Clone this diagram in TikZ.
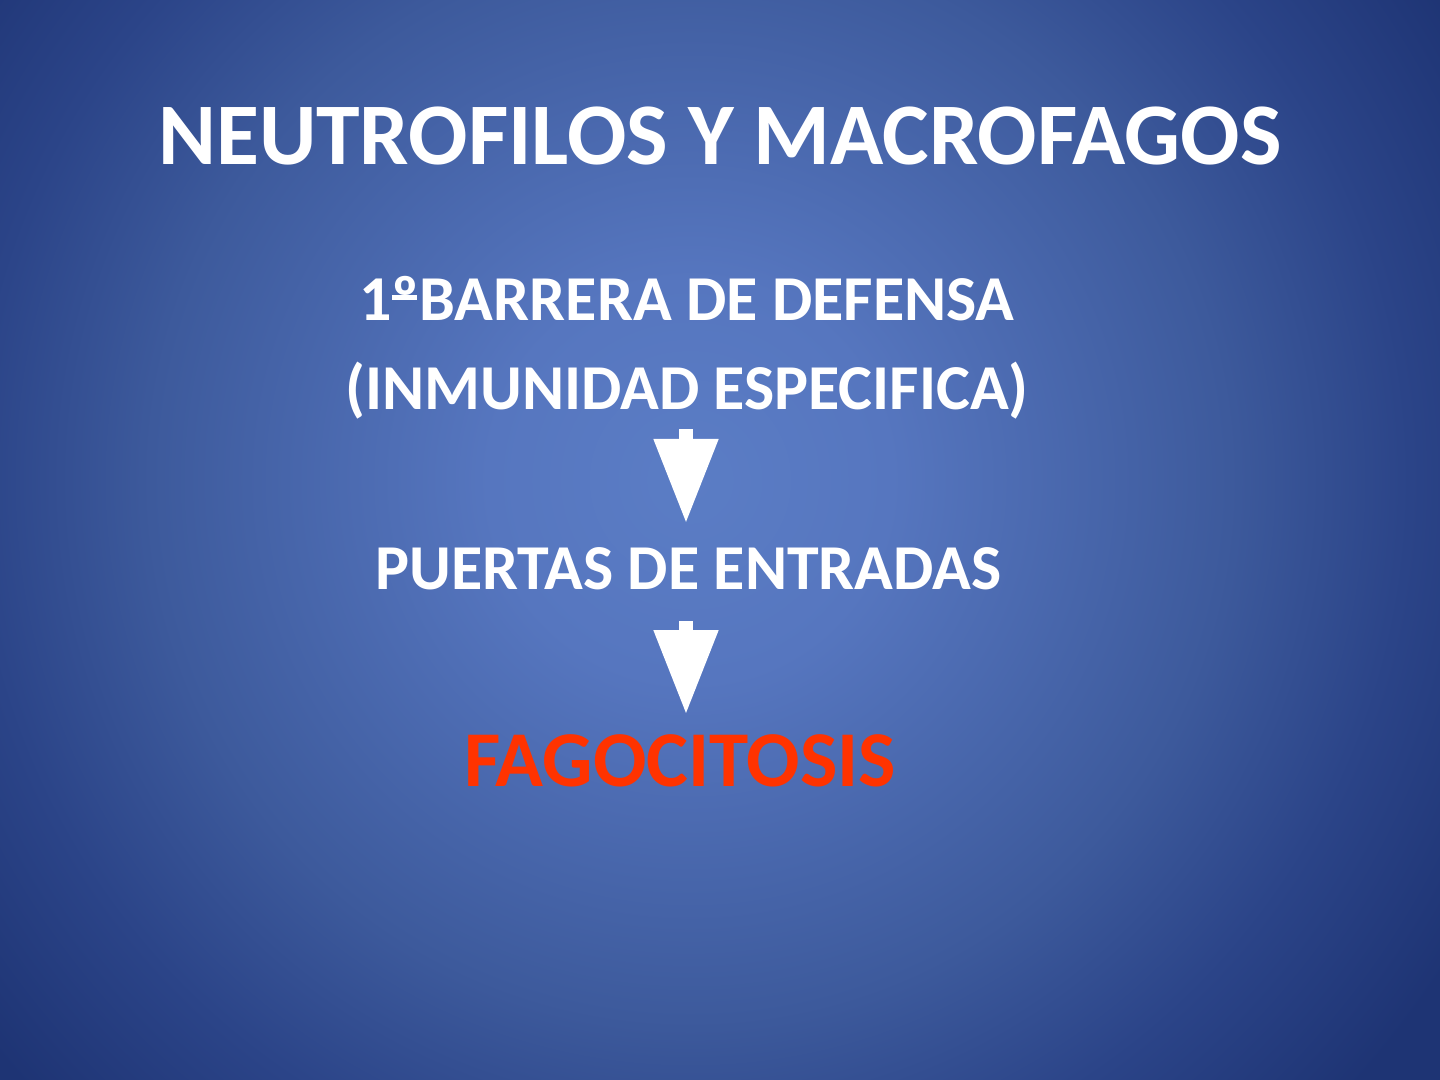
\documentclass[tikz,border=0pt]{standalone}
\usepackage{fontspec}
\setmainfont{Carlito}
\usetikzlibrary{arrows.meta, positioning}

% Slide colours
\definecolor{bgCentre}{RGB}{91,125,197}
\definecolor{bgInner}{RGB}{86,118,191}
\definecolor{bgMid}{RGB}{61,90,156}
\definecolor{bgEdge}{RGB}{43,68,136}
\definecolor{bgCorner}{RGB}{30,52,116}
\definecolor{fagoRed}{RGB}{255,51,0}

% stops in bp (1px of the slide is about 0.2835bp)
\pgfdeclareradialshading{slidebg}{\pgfpoint{0bp}{0bp}}{%
    color(0bp)=(bgCentre); color(57bp)=(bgInner); color(153bp)=(bgMid);
    color(204bp)=(bgEdge); color(255bp)=(bgCorner); color(310bp)=(bgCorner)}

\newcommand{\ordo}{\makebox[0pt][l]{\raisebox{0.33em}{\rule{0.4em}{0.07em}}}º}

\begin{document}
\begin{tikzpicture}[
    x=1cm, y=1cm,
    white,
    every node/.style={inner sep=0pt, anchor=base},
    heading/.style={font=\fontsize{25}{30}\selectfont\bfseries},
    stage/.style={font=\fontsize{18.2}{22}\selectfont\bfseries},
    result/.style={font=\fontsize{22.5}{27}\selectfont\bfseries, text=fagoRed},
    flow/.style={line width=4pt, -{Triangle[length=24pt, width=17.4pt]}}
    ]

    % Determines the boundries
    \path[use as bounding box] (0,0) rectangle (14.4,-10.8);

    \def\colX{6.87}         % centre of the text column
    \def\arrX{6.86}         % centre of the arrows

    % Background of the slide
    \begin{scope}
        \clip (0,0) rectangle (14.4,-10.8);
        \node[anchor=center] (bg) at (6.9,-4.8) {\pgfuseshading{slidebg}};
    \end{scope}

    % Title
    \node[heading] (title) at (7.2,-1.65) {NEUTROFILOS Y MACROFAGOS};

    % Steps
    \node[stage] (barrier)  at (\colX,-3.21) {1\ordo BARRERA DE DEFENSA};
    \node[stage] (immunity) at (\colX,-4.10) {(INMUNIDAD ESPECIFICA)};
    \node[stage] (gates)    at (6.885,-5.90) {PUERTAS DE ENTRADAS};
    \node[result] (fago)    at (6.80,-7.87)  {FAGOCITOSIS};

    % Arrows between the steps
    \draw[flow, shorten <= 0.09cm, shorten >= 0.24cm]
        (immunity.south -| \arrX,0) -- (gates.north -| \arrX,0);
    \draw[flow, shorten <= 0.30cm, shorten >= 0.20cm]
        (gates.south -| \arrX,0) -- (fago.north -| \arrX,0);

\end{tikzpicture}
\end{document}
